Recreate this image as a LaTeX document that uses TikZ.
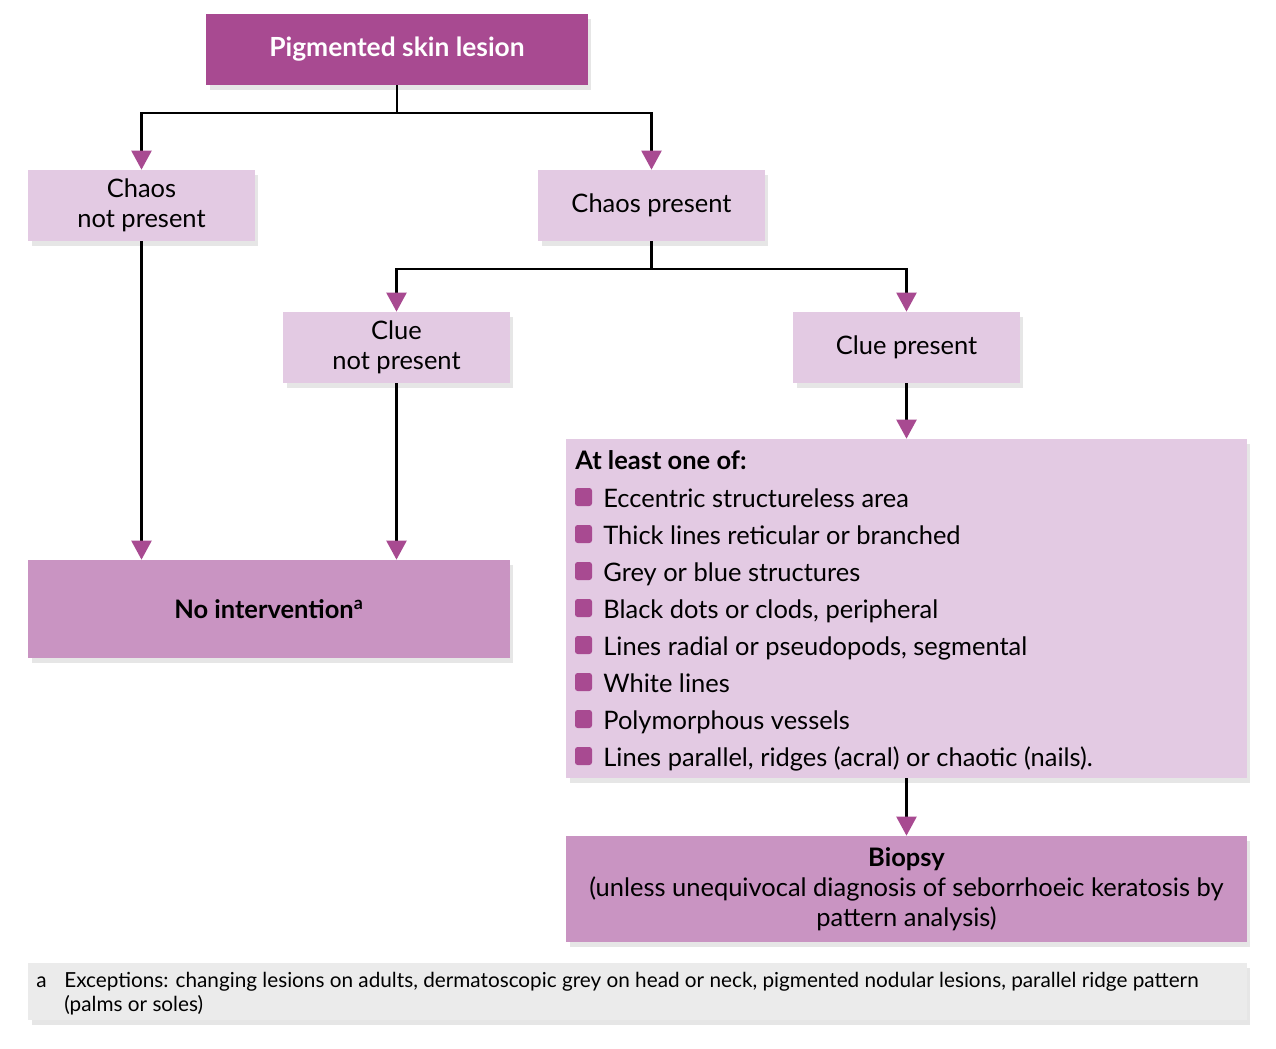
\documentclass[tikz,border=0pt]{standalone}
\usepackage{fontspec}
\setmainfont{Lato}
\usetikzlibrary{positioning, arrows.meta, shadows}

\definecolor{plumdark}{HTML}{A84A91}
\definecolor{plumlight}{HTML}{E3CAE3}
\definecolor{plummid}{HTML}{C994C2}
\definecolor{notegrey}{HTML}{EBEBEB}

\begin{document}
\begin{tikzpicture}[x=0.02cm, y=-0.02cm,
	box/.style={rectangle, inner sep=0pt, align=center,
		font=\fontsize{14.5}{17}\selectfont,
		drop shadow={shadow xshift=2pt, shadow yshift=-3pt, opacity=0.2}},
	choice/.style={box, fill=plumlight, minimum width=4.54cm, minimum height=1.42cm},
	outcome/.style={box, fill=plummid, minimum width=9.64cm},
	link/.style={line width=1.3pt},
	arrow/.style={link, -{Triangle[length=0.38cm, width=0.4cm, color=plumdark]}},
	item/.style={anchor=base west, inner sep=0pt, font=\fontsize{14.5}{17}\selectfont}]
	%\draw[help lines] (0,0) grid[step=100] (1276,1049);
	\useasboundingbox (0,0) rectangle (1276,1049);

	\node (lesion) [box, fill=plumdark, text=white, minimum width=7.64cm, minimum height=1.42cm,
		font=\fontsize{15}{17}\selectfont\bfseries] at (397,49.5) {Pigmented skin lesion};

	\node (nochaos) [choice] at (141.5,205.5) {Chaos\\not present};
	\node (chaos) [choice] at (651.5,205.5) {Chaos present};
	\node (noclue) [choice] at (396.5,347.5) {Clue\\not present};
	\node (clue) [choice] at (906.5,347.5) {Clue present};

	\node (nointerv) [outcome, minimum height=1.96cm, font=\fontsize{14.5}{17}\selectfont\bfseries]
		at (269,609) {No intervention\textsuperscript{a}};

	% criteria list
	\node (criteria) [box, fill=plumlight, minimum width=13.62cm, minimum height=6.78cm] at (906.5,608.5) {};
	\node (head) [item, font=\fontsize{14.5}{17}\selectfont\bfseries] at (575,469) {At least one of:};
	\foreach \txt [count=\i] in {Eccentric structureless area, Thick lines reticular or branched,
		Grey or blue structures, {Black dots or clods, peripheral}, {Lines radial or pseudopods, segmental},
		White lines, Polymorphous vessels, {Lines parallel, ridges (acral) or chaotic (nails).}} {
		\fill[plumdark, rounded corners=1.5pt] (575,{488+37*(\i-1)}) rectangle (592,{506+37*(\i-1)});
		\node (item\i) [item] at (603,{507+37*(\i-1)}) {\txt};
	}

	\node (biopsy) [box, fill=plummid, minimum width=13.62cm, minimum height=2.12cm] at (906.5,889)
		{\textbf{Biopsy}\\(unless unequivocal diagnosis of seborrhoeic keratosis by\\pattern analysis)};

	% footnote
	\node (note) [box, fill=notegrey, minimum width=24.38cm, minimum height=1.14cm] at (637.5,991.5) {};
	\node (notemark) [item, font=\fontsize{11.8}{13.6}\selectfont] at (36,987) {a};
	\node (notetext) [anchor=north west, inner sep=0pt, align=left, font=\fontsize{11.8}{13.6}\selectfont]
		at (64,972) {Exceptions: changing lesions on adults, dermatoscopic grey on head or neck, pigmented nodular lesions, parallel ridge pattern\\(palms or soles)};

	\coordinate (split1) at (397,113);
	\coordinate (split2) at (651.5,269);

	\draw [link] (lesion.south) -- (split1);
	\draw [arrow] (split1) -| (nochaos.north);
	\draw [arrow] (split1) -| (chaos.north);
	\draw [link] (chaos.south) -- (split2);
	\draw [arrow] (split2) -| (noclue.north);
	\draw [arrow] (split2) -| (clue.north);
	\draw [arrow] (nochaos.south) -- (nochaos.south |- nointerv.north);
	\draw [arrow] (noclue.south) -- (noclue.south |- nointerv.north);
	\draw [arrow] (clue.south) -- (criteria.north);
	\draw [arrow] (criteria.south) -- (biopsy.north);
\end{tikzpicture}
\end{document}
